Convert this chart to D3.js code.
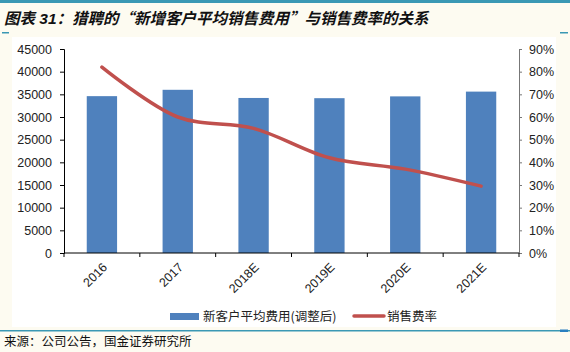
<!DOCTYPE html>
<html>
<head>
<meta charset="utf-8">
<script src="https://cdn.jsdelivr.net/npm/d3@7"></script>
<style>
  body { margin: 0; background: #fdfbf1; }
  svg { display: block; font-family: "Liberation Sans", Arial, "Noto Sans CJK SC", sans-serif; }
</style>
</head>
<body>
<div id="chart"></div>
<script>
/**
 * DATA
 * */
const categories = ["2016", "2017", "2018E", "2019E", "2020E", "2021E"];
const avgCost = [34600, 36000, 34200, 34150, 34550, 35600];   // 新客户平均费用(调整后)
const salesRate = [0.82, 0.60, 0.55, 0.42, 0.37, 0.295];    // 销售费率
const leftTicks = [0, 5000, 10000, 15000, 20000, 25000, 30000, 35000, 40000, 45000];
const rightTicks = [0, 0.1, 0.2, 0.3, 0.4, 0.5, 0.6, 0.7, 0.8, 0.9];

/**
 * CONSTANTS
 * */
const width = 570, height = 352;
const plot = { left: 64, right: 519, top: 49, bottom: 253 };
const teal = "#3a98b4";
const cjk = "'Noto Sans CJK SC', sans-serif";

const svg = d3.select("#chart").append("svg")
  .attr("width", width)
  .attr("height", height);

// background
svg.append("rect").attr("width", width).attr("height", height).attr("fill", "#fdfbf1");
svg.append("rect")
  .attr("x", 12).attr("y", 37).attr("width", 544).attr("height", 290)
  .attr("fill", "#ffffff");

// top rule + title
svg.append("rect").attr("x", 0).attr("y", 0).attr("width", width).attr("height", 3).attr("fill", teal);
const title = svg.append("text")
  .attr("x", 4).attr("y", 24)
  .style("font-family", cjk)
  .style("font-size", "15.5px")
  .style("font-weight", "bold")
  .style("font-style", "italic")
  .attr("fill", "#111");
title.append("tspan").text("图表");
title.append("tspan").style("font-family", "'Liberation Sans', Arial, sans-serif").text(" 31");
title.append("tspan").text("：猎聘的“新增客户平均销售费用”与销售费率的关系");
svg.append("rect").attr("x", 2).attr("y", 32).attr("width", 7).attr("height", 1.5).attr("fill", teal);
svg.append("rect").attr("x", 560).attr("y", 32).attr("width", 8).attr("height", 1.5).attr("fill", teal);

/**
 * SCALES
 * */
const x = d3.scaleBand()
  .domain(categories)
  .range([plot.left, plot.right])
  .paddingInner(0.6)
  .paddingOuter(0.3);

const xPoint = d => x(d) + x.bandwidth() / 2;

const yLeft = d3.scaleLinear().domain([0, 45000]).range([plot.bottom, plot.top]);
const yRight = d3.scaleLinear().domain([0, 0.9]).range([plot.bottom, plot.top]);

// bars
svg.append("g")
  .selectAll("rect")
  .data(categories)
  .join("rect")
  .attr("x", d => x(d))
  .attr("width", x.bandwidth())
  .attr("y", (d, i) => yLeft(avgCost[i]))
  .attr("height", (d, i) => plot.bottom - yLeft(avgCost[i]))
  .attr("fill", "#4f81bd");

// line
const line = d3.line()
  .x((d, i) => xPoint(categories[i]))
  .y(d => yRight(d))
  .curve(d3.curveCatmullRom.alpha(0.5));

svg.append("path")
  .datum(salesRate)
  .attr("d", line)
  .attr("fill", "none")
  .attr("stroke", "#c0504d")
  .attr("stroke-width", 3.5)
  .attr("stroke-linecap", "round");

/**
 * AXES
 * */
const leftAxis = svg.append("g")
  .attr("transform", `translate(${plot.left},0)`)
  .call(d3.axisLeft(yLeft).tickValues(leftTicks).tickSize(4).tickPadding(8).tickFormat(d3.format("d")));
leftAxis.select(".domain").attr("stroke", "#000");
leftAxis.selectAll("text").style("font-size", "12.5px").attr("fill", "#222");

const rightAxis = svg.append("g")
  .attr("transform", `translate(${plot.right},0)`)
  .call(d3.axisRight(yRight).tickValues(rightTicks).tickSize(3).tickPadding(7).tickFormat(d3.format(".0%")));
rightAxis.select(".domain").attr("stroke", "#777");
rightAxis.selectAll(".tick line").attr("stroke", "#777");
rightAxis.selectAll("text").style("font-size", "12.5px").attr("fill", "#222");

// bottom axis: ticks between categories
const bottomAxis = svg.append("g").attr("transform", `translate(0,${plot.bottom})`);
bottomAxis.append("line")
  .attr("x1", plot.left).attr("x2", plot.right)
  .attr("stroke", "#000");
bottomAxis.selectAll("line.tk")
  .data(d3.range(categories.length + 1))
  .join("line")
  .attr("class", "tk")
  .attr("x1", i => plot.left + i * (plot.right - plot.left) / categories.length)
  .attr("x2", i => plot.left + i * (plot.right - plot.left) / categories.length)
  .attr("y1", 0).attr("y2", 4)
  .attr("stroke", "#000");
bottomAxis.selectAll("text")
  .data(categories)
  .join("text")
  .attr("transform", d => `translate(${xPoint(d) + 3},${12}) rotate(-45)`)
  .attr("text-anchor", "end")
  .attr("dy", "0.35em")
  .style("font-size", "12.5px")
  .attr("fill", "#222")
  .text(d => d);

/**
 * LEGEND
 * */
const legend = svg.append("g").style("font-family", cjk).style("font-size", "12.5px");
legend.append("rect").attr("x", 170).attr("y", 313).attr("width", 29).attr("height", 7).attr("fill", "#4f81bd");
legend.append("text").attr("x", 203).attr("y", 317).attr("dy", "0.35em").attr("fill", "#222").text("新客户平均费用(调整后)");
legend.append("line").attr("x1", 354).attr("x2", 384).attr("y1", 316).attr("y2", 316)
  .attr("stroke", "#c0504d").attr("stroke-width", 3.5).attr("stroke-linecap", "round");
legend.append("text").attr("x", 387).attr("y", 317).attr("dy", "0.35em").attr("fill", "#222").text("销售费率");

// bottom rule + source
svg.append("rect").attr("x", 0).attr("y", 330).attr("width", width).attr("height", 1.5).attr("fill", teal);
svg.append("rect").attr("x", 560).attr("y", 329.5).attr("width", 8).attr("height", 2.5).attr("fill", "#2a7fc0");
svg.append("text")
  .attr("x", 4).attr("y", 346)
  .style("font-family", cjk)
  .style("font-size", "12.5px")
  .attr("fill", "#111")
  .text("来源：公司公告，国金证券研究所");
</script>
</body>
</html>
